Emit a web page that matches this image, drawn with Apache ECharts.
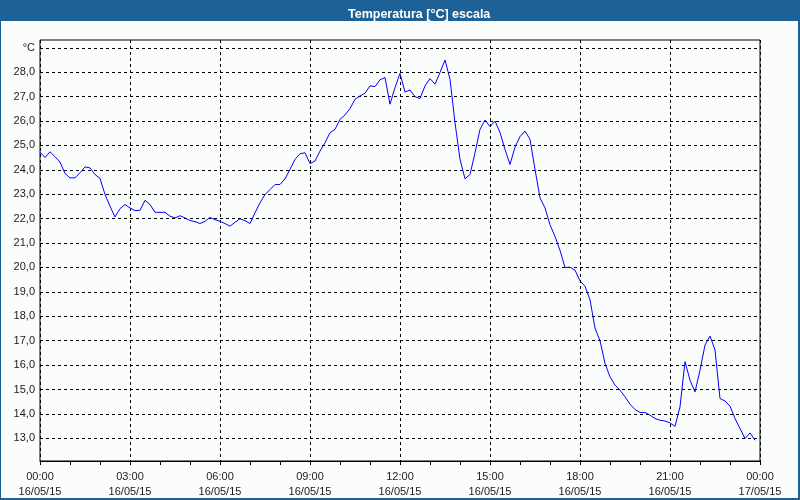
<!DOCTYPE html>
<html>
<head>
<meta charset="utf-8">
<script src="https://cdn.jsdelivr.net/npm/echarts@6/dist/echarts.min.js"></script>
<style>
html,body{margin:0;padding:0;background:#fff;}
#chart{width:800px;height:500px;}
</style>
</head>
<body>
<div id="chart"></div>
<script>
// Temperature readings every 10 minutes from 00:00 16/05/15 (°C)
const temperatures = [
  24.73,24.50,24.74,24.54,24.32,23.85,23.67,23.67,23.88,24.12,24.08,23.81,
  23.65,22.99,22.51,22.07,22.41,22.58,22.44,22.33,22.34,22.75,22.58,22.26,
  22.26,22.26,22.10,22.03,22.12,22.03,21.92,21.88,21.80,21.89,22.05,21.96,
  21.89,21.80,21.69,21.85,21.99,21.92,21.80,22.24,22.65,22.99,23.19,23.40,
  23.40,23.63,24.02,24.43,24.66,24.70,24.26,24.36,24.77,25.11,25.52,25.66,
  26.07,26.25,26.51,26.89,27.03,27.14,27.44,27.41,27.69,27.78,26.69,27.37,
  27.95,27.19,27.27,27.00,26.92,27.44,27.74,27.51,27.99,28.50,27.71,25.93,
  24.43,23.63,23.81,24.70,25.66,26.04,25.77,26.00,25.53,24.84,24.22,24.93,
  25.36,25.59,25.25,24.02,22.85,22.44,21.75,21.27,20.70,20.00,20.01,19.89,
  19.45,19.23,18.68,17.51,17.00,16.07,15.52,15.18,14.97,14.70,14.40,14.18,
  14.06,14.06,13.95,13.81,13.74,13.71,13.63,13.49,14.29,16.14,15.38,14.90,
  15.79,16.82,17.19,16.62,14.63,14.53,14.32,13.81,13.40,12.99,13.22,12.92
];
const sampleStepMinutes = 10;
const xTickLabels = [
  "00:00\n16/05/15","03:00\n16/05/15","06:00\n16/05/15","09:00\n16/05/15",
  "12:00\n16/05/15","15:00\n16/05/15","18:00\n16/05/15","21:00\n16/05/15",
  "00:00\n17/05/15"
];
const yTickValues = [13,14,15,16,17,18,19,20,21,22,23,24,25,26,27,28,29];
const yUnitLabel = "°C";
const titleText = "Temperatura [°C] escala";

const seriesData = temperatures.map((t, i) => [i * sampleStepMinutes, t]);

const chart = echarts.init(document.getElementById('chart'));
const FONT = '"Liberation Sans", Arial, sans-serif';
chart.setOption({
  backgroundColor: '#fbfdfd',
  animation: false,
  title: {
    text: titleText,
    left: 343,
    top: 3,
    textStyle: { color: '#ffffff', fontSize: 12.5, fontWeight: 'bold', fontFamily: FONT }
  },
  graphic: [
    { type: 'rect', z: -1, silent: true, shape: { x: 0, y: 0, width: 800, height: 21 }, style: { fill: '#1e6196' } },
    { type: 'rect', z: 100, silent: true, shape: { x: 0, y: 0, width: 1, height: 500 }, style: { fill: '#1e6196' } },
    { type: 'rect', z: 100, silent: true, shape: { x: 798, y: 0, width: 2, height: 500 }, style: { fill: '#1e6196' } },
    { type: 'rect', z: 100, silent: true, shape: { x: 0, y: 498, width: 800, height: 2 }, style: { fill: '#1e6196' } }
  ],
  grid: {
    left: 40, right: 40, top: 40, bottom: 39,
    show: true, borderColor: '#000', borderWidth: 1, backgroundColor: 'transparent'
  },
  xAxis: {
    type: 'value',
    min: 0, max: 1440, interval: 180,
    axisLine: { show: true, lineStyle: { color: '#000', width: 1 } },
    axisTick: { show: true, length: 4, lineStyle: { color: '#000' } },
    minorTick: { show: true, splitNumber: 3, length: 4, lineStyle: { color: '#000' } },
    splitLine: { show: true, lineStyle: { color: '#000', type: [3, 3], width: 1 } },
    axisLabel: {
      color: '#1a1a22', fontSize: 11, fontFamily: FONT, margin: 8, lineHeight: 15,
      formatter: v => xTickLabels[Math.round(v / 180)] || ''
    }
  },
  yAxis: {
    type: 'value',
    min: 12.07, max: 29.32,
    axisLine: { show: false },
    axisTick: { show: false, customValues: yTickValues },
    splitLine: {
      show: true,
      lineStyle: { color: '#000', type: [3, 3], width: 1 }
    },
    axisLabel: {
      color: '#1a1a22', fontSize: 11, fontFamily: FONT, margin: 5,
      customValues: yTickValues,
      formatter: v => {
        const r = Math.round(v);
        if (r === 29) return yUnitLabel;
        return r.toFixed(1).replace('.', ',');
      }
    }
  },
  series: [{
    type: 'line',
    data: seriesData,
    showSymbol: false,
    lineStyle: { color: '#0000ff', width: 1 },
    itemStyle: { color: '#0000ff' }
  }]
});
</script>
</body>
</html>
